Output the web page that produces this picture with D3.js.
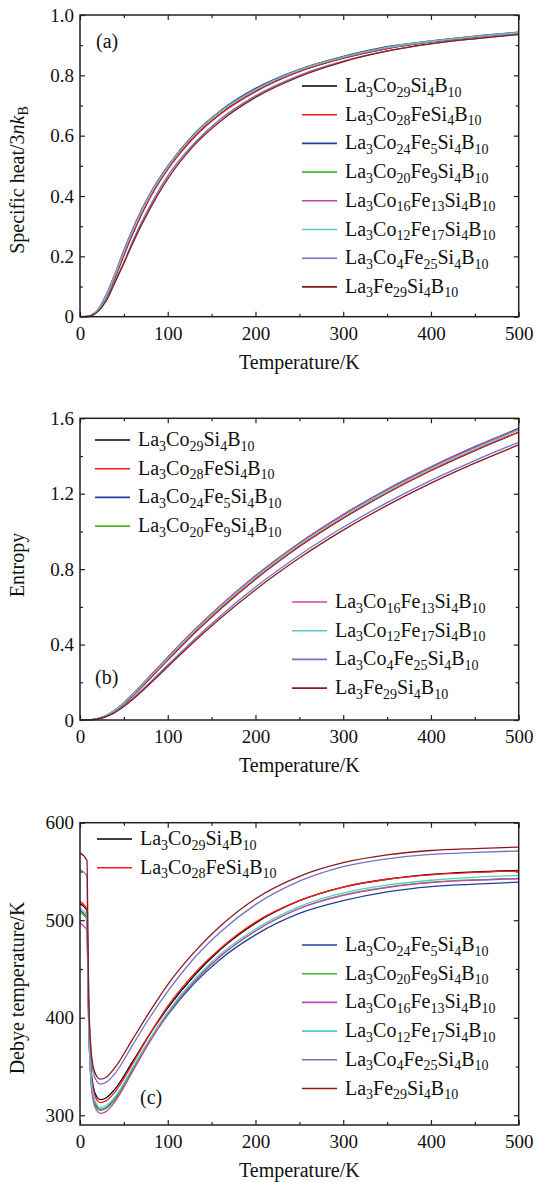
<!DOCTYPE html>
<html>
<head>
<meta charset="utf-8">
<script src="https://cdnjs.cloudflare.com/ajax/libs/d3/7.8.5/d3.min.js"></script>
<style>
body { margin: 0; background: #fff; }
.tick line { stroke: #222; stroke-width: 1.2; }
.frame { fill: none; stroke: #222; stroke-width: 1.5; }
.series { fill: none; stroke-width: 1.3; }
</style>
</head>
<body>
<div id="chart"></div>
<script>
// compositions (legend order) and colours
const names = ["La3Co29Si4B10", "La3Co28FeSi4B10", "La3Co24Fe5Si4B10", "La3Co20Fe9Si4B10",
               "La3Co16Fe13Si4B10", "La3Co12Fe17Si4B10", "La3Co4Fe25Si4B10", "La3Fe29Si4B10"];
const colors = ["#000000", "#ff1a1a", "#22409a", "#44bb22", "#cc44aa", "#55cccc", "#7272c4", "#8b1a1a"];

// x ticks
const tempTicks = [0, 100, 200, 300, 400, 500];
const tempMinor = [50, 150, 250, 350, 450];

// temperatures shared by (a) and (b)
const tempGrid = [0, 10, 15, 20, 30, 40, 50, 60, 80, 100, 130, 160, 200, 250, 300, 350, 400, 450, 500];

// (a) specific heat / 3nkB
const heatCo29     = [0, .0010, .0075, .0194, .066, .130, .204, .274, .396, .490, .596, .673, .747, .813, .857, .889, .911, .927, .941];
const heatCo28Fe1  = [0, .0010, .0076, .0196, .068, .132, .205, .276, .396, .488, .594, .672, .746, .813, .857, .889, .911, .927, .941];
const heatCo24Fe5  = [0, .0012, .0084, .0205, .070, .140, .217, .288, .408, .499, .606, .683, .757, .820, .863, .895, .914, .930, .943];
const heatCo20Fe9  = [0, .0012, .0087, .0213, .0725, .141, .218, .289, .408, .498, .604, .681, .753, .818, .861, .893, .913, .929, .942];
const heatCo16Fe13 = [0, .0013, .0089, .0220, .074, .144, .221, .291, .409, .498, .604, .681, .753, .818, .861, .893, .913, .929, .942];
const heatCo12Fe17 = [0, .0011, .0083, .0207, .069, .137, .214, .284, .404, .495, .601, .679, .752, .817, .860, .892, .913, .928, .942];
const heatCo4Fe25  = [0, .0007, .0065, .0167, .057, .118, .181, .250, .368, .467, .574, .655, .732, .800, .847, .881, .905, .922, .936];
const heatFe29     = [0, .0006, .0062, .0160, .053, .114, .176, .243, .359, .457, .568, .648, .727, .796, .845, .880, .904, .921, .935];
const heatTicks = [0, 0.2, 0.4, 0.6, 0.8, 1.0];
const heatMinor = [0.1, 0.3, 0.5, 0.7, 0.9];

// (b) entropy
const entCo29     = [0, .0004, .0026, .0063, .0218, .0488, .0848, .1277, .2215, .318, .459, .589, .747, .920, 1.070, 1.204, 1.323, 1.429, 1.526];
const entCo28Fe1  = [0, .0004, .0026, .0064, .0221, .0493, .0855, .1285, .2225, .319, .460, .590, .748, .921, 1.071, 1.205, 1.324, 1.430, 1.527];
const entCo24Fe5  = [0, .0004, .0028, .0067, .0232, .0520, .0905, .1355, .2330, .332, .475, .606, .765, .939, 1.090, 1.224, 1.343, 1.450, 1.547];
const entCo20Fe9  = [0, .0004, .0029, .0070, .0238, .0527, .0908, .1357, .2328, .3315, .4745, .605, .7635, .937, 1.0875, 1.221, 1.340, 1.4465, 1.543];
const entCo16Fe13 = [0, .0004, .0030, .0073, .0246, .0538, .0922, .1373, .2345, .333, .476, .6063, .7645, .9378, 1.088, 1.2213, 1.340, 1.446, 1.542];
const entCo12Fe17 = [0, .0004, .0028, .0068, .0230, .0512, .0885, .1327, .2288, .3265, .469, .599, .7565, .9295, 1.0795, 1.2125, 1.331, 1.437, 1.538];
const entCo4Fe25  = [0, .0003, .0022, .0055, .0190, .0428, .0753, .1137, .2003, .2915, .426, .552, .705, .874, 1.022, 1.153, 1.271, 1.376, 1.473];
const entFe29     = [0, .0003, .0021, .0052, .0179, .0407, .0721, .1093, .1934, .2828, .415, .5395, .691, .859, 1.007, 1.138, 1.256, 1.362, 1.459];
const entropyTicks = [0, 0.4, 0.8, 1.2, 1.6];
const entropyMinor = [0.2, 0.6, 1.0, 1.4];

// (c) Debye temperature (K)
const tempDebye = [0, 8, 9, 10, 12, 15, 19, 23, 30, 40, 60, 80, 100, 130, 160, 200, 250, 300, 350, 400, 450, 500];
const debCo29     = [517, 510, 450, 400, 355, 330, 319, 316, 318, 327, 355, 384, 410, 443, 470, 497, 520, 534, 542, 547, 549.5, 551];
const debCo28Fe1  = [519, 511, 450, 398, 352, 327, 316, 313, 315, 324, 353, 384, 412, 445, 471, 498, 520, 534, 542, 546.5, 549, 550.5];
const debCo24Fe5  = [510, 502, 442, 392, 345, 320, 309, 306, 308, 317, 347, 377, 403, 435, 460, 485, 507, 520, 529, 534.5, 537, 539];
const debCo20Fe9  = [508, 501, 441, 391, 344, 318, 307, 305, 307, 316, 346, 377, 404, 437, 463, 489, 512, 526, 534, 539, 541.5, 543];
const debCo16Fe13 = [497, 490, 435, 388, 342, 315, 305, 302, 304, 314, 345, 376, 404, 437, 463, 489, 512, 525.5, 533.5, 538.5, 541, 542.5];
const debCo12Fe17 = [512, 505, 445, 395, 348, 322, 311, 308, 310, 319, 349, 379, 406, 439, 465, 491, 514, 528, 536, 541, 544, 546];
const debCo4Fe25  = [552, 545, 470, 415, 370, 345, 335, 332, 334, 343, 372, 401, 427, 461, 488, 516, 540, 555, 563, 567.5, 569.5, 571];
const debFe29     = [569, 561, 480, 420, 375, 350, 340, 337, 339, 349, 378, 407, 434, 467, 494, 522, 545, 559, 567, 571.5, 573.5, 575];
const debyeTicks = [300, 400, 500, 600];
const debyeMinor = [350, 450, 550];

const W = 539, H = 1182;
const left = 80, right = 518.7;
const serif = '"Liberation Serif"';

const svg = d3.select("#chart").append("svg")
    .attr("width", W)
    .attr("height", H);

const x = d3.scaleLinear().domain([0, 500]).range([left, right]);

// chemical formula with subscript digits
function formula(sel, s) {
    const parts = s.match(/[A-Z][a-z]?|\d+/g);
    let sub = false;
    parts.forEach(p => {
        const num = /\d/.test(p);
        const t = sel.append("tspan").text(p);
        if (num) {
            t.style("font-size", "14px");
            if (!sub) { t.attr("dy", 4.5); sub = true; }
        } else if (sub) {
            t.attr("dy", -4.5); sub = false;
        }
    });
}

function panel(cfg) {
    const y = d3.scaleLinear().domain(cfg.domain).range([cfg.bottom, cfg.top]);
    const g = svg.append("g");

    // bottom + left with labels, top + right without, ticks pointing in
    g.append("g").attr("transform", `translate(0,${cfg.bottom})`)
        .call(d3.axisBottom(x).tickValues(tempTicks).tickSize(-5).tickPadding(9.5).tickFormat(d3.format("d")));
    g.append("g").attr("transform", `translate(0,${cfg.bottom})`)
        .call(d3.axisBottom(x).tickValues(tempMinor).tickSize(-3).tickFormat(""));
    g.append("g").attr("transform", `translate(0,${cfg.top})`)
        .call(d3.axisTop(x).tickValues(tempTicks).tickSize(-5).tickFormat(""));
    g.append("g").attr("transform", `translate(0,${cfg.top})`)
        .call(d3.axisTop(x).tickValues(tempMinor).tickSize(-3).tickFormat(""));
    g.append("g").attr("transform", `translate(${left},0)`)
        .call(d3.axisLeft(y).tickValues(cfg.ticks).tickSize(-5).tickPadding(6).tickFormat(cfg.fmt));
    g.append("g").attr("transform", `translate(${left},0)`)
        .call(d3.axisLeft(y).tickValues(cfg.minor).tickSize(-3).tickFormat(""));
    g.append("g").attr("transform", `translate(${right},0)`)
        .call(d3.axisRight(y).tickValues(cfg.ticks).tickSize(-5).tickFormat(""));
    g.append("g").attr("transform", `translate(${right},0)`)
        .call(d3.axisRight(y).tickValues(cfg.minor).tickSize(-3).tickFormat(""));
    g.selectAll(".domain").remove();
    g.selectAll(".tick text").style("font-size", "19px");

    const line = d3.line()
        .x((d, i) => x(cfg.temps[i]))
        .y(d => y(d))
        .curve(d3.curveMonotoneX);

    g.selectAll(".series")
        .data(cfg.series)
        .enter().append("path")
        .attr("class", "series")
        .attr("stroke", (d, i) => colors[i])
        .attr("d", d => line(d));

    g.append("rect")
        .attr("class", "frame")
        .attr("x", left).attr("y", cfg.top)
        .attr("width", right - left).attr("height", cfg.bottom - cfg.top);

    // legends
    cfg.legends.forEach(lg => {
        const lgG = g.append("g").attr("class", "legend");
        lg.items.forEach((idx, k) => {
            const yy = lg.y + k * 28.7;
            lgG.append("line")
                .attr("x1", lg.x).attr("x2", lg.x + 35)
                .attr("y1", yy).attr("y2", yy)
                .attr("stroke", colors[idx]).attr("stroke-width", 1.6);
            const t = lgG.append("text").attr("x", lg.x + 43).attr("y", yy + 6)
                .style("font-size", "20px");
            formula(t, names[idx]);
        });
    });

    // panel tag
    g.append("text")
        .attr("x", cfg.tag[0]).attr("y", cfg.tag[1])
        .style("font-size", "20px")
        .text(cfg.tagText);

    // x title
    g.append("text")
        .attr("x", (left + right) / 2).attr("y", cfg.bottom + 52)
        .attr("text-anchor", "middle")
        .style("font-size", "20px")
        .text("Temperature/K");

    // y title
    const yt = g.append("text")
        .attr("transform", `translate(24,${cfg.yTitleY}) rotate(-90)`)
        .attr("text-anchor", "middle")
        .style("font-size", "20px");
    cfg.yTitle(yt);
}

const fmtDec = d => d === 0 ? "0" : d3.format(".1f")(d);

panel({
    top: 15, bottom: 316.7, domain: [0, 1],
    ticks: heatTicks, minor: heatMinor, fmt: fmtDec,
    temps: tempGrid,
    series: [heatCo29, heatCo28Fe1, heatCo24Fe5, heatCo20Fe9, heatCo16Fe13, heatCo12Fe17, heatCo4Fe25, heatFe29],
    legends: [{ x: 302, y: 86, items: [0, 1, 2, 3, 4, 5, 6, 7] }],
    tag: [96, 48], tagText: "(a)",
    yTitleY: 180,
    yTitle: t => {
        t.append("tspan").text("Specific heat/3");
        t.append("tspan").style("font-style", "italic").text("nk");
        t.append("tspan").style("font-size", "14px").attr("dy", 4).text("B");
    }
});

panel({
    top: 418.3, bottom: 720, domain: [0, 1.6],
    ticks: entropyTicks, minor: entropyMinor, fmt: fmtDec,
    temps: tempGrid,
    series: [entCo29, entCo28Fe1, entCo24Fe5, entCo20Fe9, entCo16Fe13, entCo12Fe17, entCo4Fe25, entFe29],
    legends: [{ x: 95, y: 440, items: [0, 1, 2, 3] }, { x: 292, y: 602, items: [4, 5, 6, 7] }],
    tag: [95, 684], tagText: "(b)",
    yTitleY: 565,
    yTitle: t => t.text("Entropy")
});

panel({
    top: 822.7, bottom: 1125, domain: [290, 600],
    ticks: debyeTicks, minor: debyeMinor, fmt: d3.format("d"),
    temps: tempDebye,
    series: [debCo29, debCo28Fe1, debCo24Fe5, debCo20Fe9, debCo16Fe13, debCo12Fe17, debCo4Fe25, debFe29],
    legends: [{ x: 97, y: 839, items: [0, 1] }, { x: 302, y: 945, items: [2, 3, 4, 5, 6, 7] }],
    tag: [140, 1104], tagText: "(c)",
    yTitleY: 988,
    yTitle: t => t.text("Debye temperature/K")
});

// every label in the serif face, set inline so nothing overrides it
svg.selectAll("g").attr("font-family", null).attr("font-size", null);
svg.selectAll("text").style("font-family", serif).style("fill", "#111");
</script>
</body>
</html>
